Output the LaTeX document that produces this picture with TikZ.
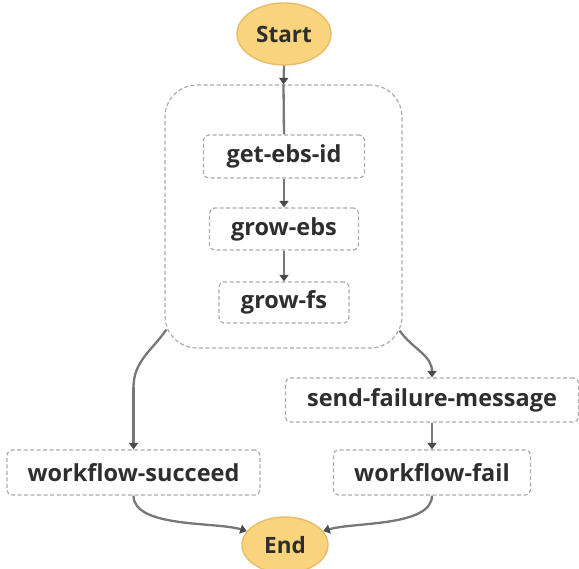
\documentclass[tikz,border=0pt]{standalone}
\usepackage{fontspec}
\setmainfont{Open Sans}
\usetikzlibrary{shapes.geometric,arrows.meta,calc}
\definecolor{txt}{HTML}{2E2E2E}
\definecolor{dashc}{HTML}{ABABAB}
\definecolor{linec}{HTML}{777777}
\definecolor{tipc}{HTML}{4A4A4A}
\definecolor{termfill}{HTML}{F9D47C}
\definecolor{termdraw}{HTML}{E9BD68}
\tikzset{
  x=1pt,y=1pt,
  term/.style={ellipse,fill=termfill,draw=termdraw,line width=1.4pt,inner sep=0pt,
    font=\fontsize{22.5}{24}\selectfont\bfseries,text=txt},
  state/.style={rectangle,rounded corners=5pt,draw=dashc,line width=1.2pt,
    dash pattern=on 4pt off 2.5pt,inner sep=0pt,
    font=\fontsize{23.5}{25}\selectfont\bfseries,text=txt},
  grp/.style={rectangle,rounded corners=32pt,draw=dashc,line width=1.2pt,
    dash pattern=on 4pt off 2.5pt,inner sep=0pt},
  conn/.style={draw=linec,line width=2.3pt},
  arr/.style={conn,-{Triangle[width=9pt,length=6.5pt,color=tipc]}},
}
\begin{document}
\begin{tikzpicture}
\useasboundingbox (0,0) rectangle (579,-569);
\node[grp,minimum width=237pt,minimum height=263pt] (group) at (283.5,-216.5) {};
\node[term,minimum width=94pt,minimum height=62pt] (start) at (284,-34) {Start};
\node[term,minimum width=86pt,minimum height=56pt] (end) at (285,-545) {End};
\node[state,minimum width=161pt,minimum height=43pt] (get) at (284,-156.5) {get-ebs-id};
\node[state,minimum width=149pt,minimum height=42pt] (growebs) at (284,-229) {grow-ebs};
\node[state,minimum width=130pt,minimum height=41pt] (growfs) at (284,-302.5) {grow-fs};
\node[state,minimum width=293pt,minimum height=44pt] (sfm) at (432,-400) {send-failure-message};
\node[state,minimum width=253pt,minimum height=45pt] (ws) at (133.5,-472.5) {workflow-succeed};
\node[state,minimum width=197pt,minimum height=45pt] (wf) at (432,-472.5) {workflow-fail};
\coordinate (gl) at ($(group.south west)+(2,19)$);
\coordinate (gr) at ($(group.south east)+(-3,18)$);
\coordinate (lbend) at ($(ws.north)+(0,62)$);
\draw[arr] (start.south) -- (group.north);
\draw[conn] (group.north) -- (get.north);
\draw[arr] (get.south) -- (growebs.north);
\draw[arr] (growebs.south) -- (growfs.north);
\draw[conn] (gl) to[out=-125,in=90] (lbend);
\draw[arr] (lbend) -- (ws.north);
\draw[arr] (gr) to[out=-55,in=90] (sfm.north);
\draw[arr] (sfm.south) -- (wf.north);
\draw[arr] (ws.south) to[out=-90,in=163,looseness=0.7] (end.160);
\draw[arr] (wf.south) to[out=-90,in=17,looseness=0.7] (end.20);
\end{tikzpicture}
\end{document}
